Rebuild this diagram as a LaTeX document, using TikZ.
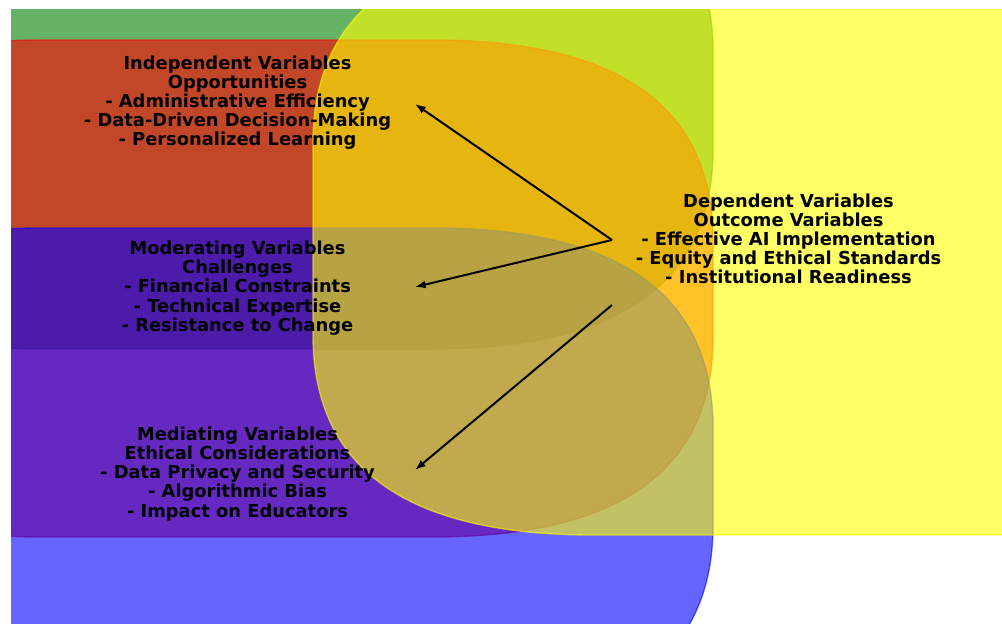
\documentclass[tikz,border=0pt]{standalone}
\usepackage{fontspec}
\setmainfont{DejaVu Sans}
\usetikzlibrary{arrows.meta}
\definecolor{mplgreen}{RGB}{0,128,0}
\definecolor{mplred}{RGB}{255,0,0}
\definecolor{mplblue}{RGB}{0,0,255}
\definecolor{mplyellow}{RGB}{255,255,0}
% matplotlib-style rounded box (quadratic corners), rx=280, ry=200
\newcommand{\mplbox}[5]{%
  \path[boxshape=#1]
    (#2+280,#3) -- (#4-280,#3)
    .. controls (#4-93.333,#3) and (#4,#3+66.667) .. (#4,#3+200)
    -- (#4,#5-200)
    .. controls (#4,#5-66.667) and (#4-93.333,#5) .. (#4-280,#5)
    -- (#2+280,#5)
    .. controls (#2+93.333,#5) and (#2,#5-66.667) .. (#2,#5-200)
    -- (#2,#3+200)
    .. controls (#2,#3+66.667) and (#2+93.333,#3) .. (#2+280,#3)
    -- cycle;}
\begin{document}
\begin{tikzpicture}[x=0.75pt,y=-0.75pt,
  boxshape/.style={fill=#1, draw=#1, fill opacity=0.6, draw opacity=0.6, line width=1pt},
  varlabel/.style={font=\fontsize{13.4}{14.4}\selectfont\bfseries, align=center, text=black, inner sep=0pt},
  link/.style={line width=1.5pt, draw=black, -{Latex[length=8pt,width=6pt]}}]
\useasboundingbox (0,0) rectangle (1002,624);
\begin{scope}
  \clip (11,10) rectangle (1002,624);
  \mplbox{mplgreen}{-239}{-148}{713}{349}
  \mplbox{mplred}{-239}{40}{713}{537}
  \mplbox{mplblue}{-239}{228}{713}{725}
  \mplbox{mplyellow}{313}{-57}{1263}{535}
\end{scope}
\node[varlabel] (indep) at (237.5,102.7) {Independent Variables\\Opportunities\\- Administrative Efficiency\\- Data-Driven Decision-Making\\- Personalized Learning};
\node[varlabel] (moder) at (237.5,288) {Moderating Variables\\Challenges\\- Financial Constraints\\- Technical Expertise\\- Resistance to Change};
\node[varlabel] (medi) at (237.5,473.7) {Mediating Variables\\Ethical Considerations\\- Data Privacy and Security\\- Algorithmic Bias\\- Impact on Educators};
\node[varlabel] (dep) at (788.5,238.9) {Dependent Variables\\Outcome Variables\\- Effective AI Implementation\\- Equity and Ethical Standards\\- Institutional Readiness};
\coordinate (hub) at (612,240);
\coordinate (hublow) at (612,305);
\coordinate (tipind) at (415,104);
\coordinate (tipmod) at (415,287);
\coordinate (tipmed) at (415,470);
\draw[link] (hub) -- (tipind);
\draw[link] (hub) -- (tipmod);
\draw[link] (hublow) -- (tipmed);
\end{tikzpicture}
\end{document}
